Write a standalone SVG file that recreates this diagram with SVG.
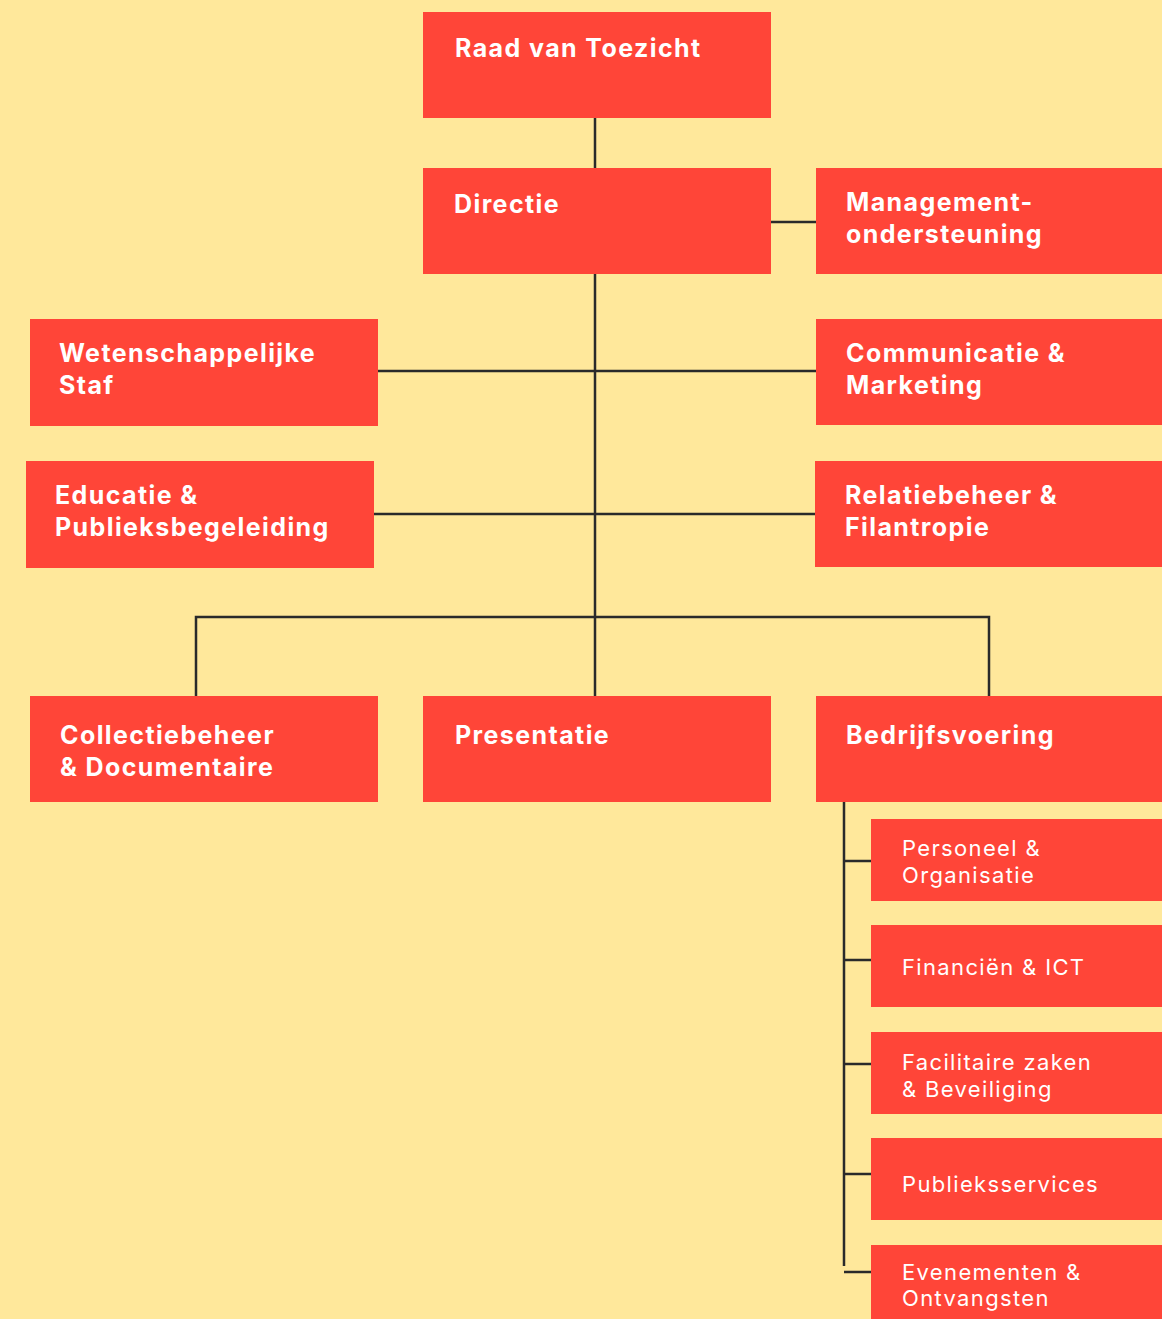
<svg xmlns="http://www.w3.org/2000/svg" width="1162" height="1319" viewBox="0 0 1162 1319">
<style>
.bg{fill:#FFE89B}
.box{fill:#FF4538}
.t{font-family:Inter,"Noto Sans",sans-serif;font-weight:700;font-size:25px;fill:#FFFFFF;letter-spacing:1.4px}
.s{font-family:Inter,"Noto Sans",sans-serif;font-weight:400;font-size:22px;fill:#FFFFFF;letter-spacing:1.35px}
.ln{stroke:#2A2A2A;stroke-width:2.5;fill:none}
</style>
<rect class="bg" x="0" y="0" width="1162" height="1319"/>
<g id="connectors">
<path class="ln" d="M595 118V168M595 274V696M771 222H816M378 371H816M374 514H815M196 696V617H989V696M844 802V1266M844 861H871M844 960H871M844 1064H871M844 1174H871M844 1272H871"/>
</g>
<g id="raad"><rect class="box" x="423" y="12" width="348" height="106"/><text class="t" x="455" y="57">Raad van Toezicht</text></g>
<g id="directie"><rect class="box" x="423" y="168" width="348" height="106"/><text class="t" x="454" y="213">Directie</text></g>
<g id="management"><rect class="box" x="816" y="168" width="346" height="106"/><text class="t" x="846" y="211">Management-</text><text class="t" x="846" y="243">ondersteuning</text></g>
<g id="wetenschap"><rect class="box" x="30" y="319" width="348" height="107"/><text class="t" x="59" y="362">Wetenschappelijke</text><text class="t" x="59" y="394">Staf</text></g>
<g id="communicatie"><rect class="box" x="816" y="319" width="346" height="106"/><text class="t" x="846" y="362">Communicatie &amp;</text><text class="t" x="846" y="394">Marketing</text></g>
<g id="educatie"><rect class="box" x="26" y="461" width="348" height="107"/><text class="t" x="55" y="504">Educatie &amp;</text><text class="t" x="55" y="536">Publieksbegeleiding</text></g>
<g id="relatiebeheer"><rect class="box" x="815" y="461" width="347" height="106"/><text class="t" x="845" y="504">Relatiebeheer &amp;</text><text class="t" x="845" y="536">Filantropie</text></g>
<g id="collectiebeheer"><rect class="box" x="30" y="696" width="348" height="106"/><text class="t" x="60" y="744">Collectiebeheer</text><text class="t" x="60" y="776">&amp; Documentaire</text></g>
<g id="presentatie"><rect class="box" x="423" y="696" width="348" height="106"/><text class="t" x="455" y="744">Presentatie</text></g>
<g id="bedrijfsvoering"><rect class="box" x="816" y="696" width="346" height="106"/><text class="t" x="846" y="744">Bedrijfsvoering</text></g>
<g id="personeel"><rect class="box" x="871" y="819" width="291" height="82"/><text class="s" x="902" y="856">Personeel &amp;</text><text class="s" x="902" y="883">Organisatie</text></g>
<g id="financien"><rect class="box" x="871" y="925" width="291" height="82"/><text class="s" x="902" y="975">Financiën &amp; ICT</text></g>
<g id="facilitaire"><rect class="box" x="871" y="1032" width="291" height="82"/><text class="s" x="902" y="1070">Facilitaire zaken</text><text class="s" x="902" y="1097">&amp; Beveiliging</text></g>
<g id="publieksservices"><rect class="box" x="871" y="1138" width="291" height="82"/><text class="s" x="902" y="1192">Publieksservices</text></g>
<g id="evenementen"><rect class="box" x="871" y="1245" width="291" height="74"/><text class="s" x="902" y="1280">Evenementen &amp;</text><text class="s" x="902" y="1306">Ontvangsten</text></g>
</svg>
